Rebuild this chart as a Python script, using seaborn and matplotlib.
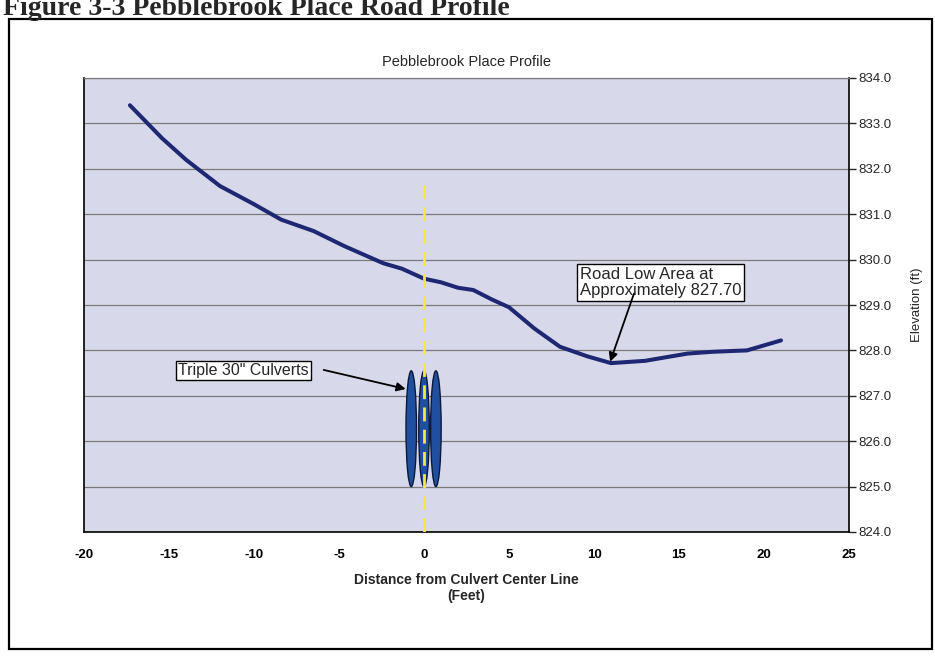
import matplotlib
matplotlib.use("Agg")
import matplotlib.pyplot as plt
import seaborn as sns
import pandas as pd
from matplotlib.patches import Ellipse, Rectangle
from matplotlib.ticker import FormatStrFormatter

# -----------------------------
# DATA
# -----------------------------
distance_ft = [-17.3, -15.4, -14.0, -12.0, -10.0, -8.4, -6.5, -4.7, -2.4, -1.3,
               0.0, 1.0, 2.0, 2.9, 4.0, 5.0, 6.5, 8.0, 9.6, 11.0,
               13.0, 15.5, 17.0, 19.0, 21.0]
elevation_ft = [833.40, 832.67, 832.20, 831.62, 831.22, 830.88, 830.63, 830.30, 829.92, 829.80,
                829.58, 829.50, 829.38, 829.33, 829.12, 828.95, 828.48, 828.08, 827.87, 827.72,
                827.77, 827.93, 827.97, 828.00, 828.22]

culvert_x = [-0.75, 0.0, 0.7]
culvert_bottom = 825.0
culvert_top = 827.55
culvert_width = 0.62

centerline_x = 0.0
centerline_top = 831.8

x_ticks = [-20, -15, -10, -5, 0, 5, 10, 15, 20, 25]
y_ticks = [824, 825, 826, 827, 828, 829, 830, 831, 832, 833, 834]

low_point = (10.95, 827.75)
low_label = "Road Low Area at\nApproximately 827.70"
culvert_label = 'Triple 30" Culverts'

df = pd.DataFrame({"Distance": distance_ft, "Elevation": elevation_ft})

# -----------------------------
# STYLE
# -----------------------------
sns.set_style("white")
plt.rcParams["font.family"] = ["Liberation Sans", "DejaVu Sans"]
plt.rcParams["axes.unicode_minus"] = False

fig = plt.figure(figsize=(9.35, 6.56), dpi=100)
W, H = 935, 656
ax = fig.add_axes([84 / W, 1 - 532 / H, (849 - 84) / W, (532 - 78) / H])
ax.set_facecolor("#d8d8eb")

# -----------------------------
# PLOT
# -----------------------------
sns.lineplot(data=df, x="Distance", y="Elevation", ax=ax, color="#1d2772",
             linewidth=2.9, sort=False, estimator=None, zorder=4)

for cx in culvert_x:
    ax.add_patch(Ellipse((cx, (culvert_bottom + culvert_top) / 2), culvert_width,
                         culvert_top - culvert_bottom, facecolor="#1f4f9e",
                         edgecolor="#0b1a3a", linewidth=1.0, zorder=5))

ax.plot([centerline_x, centerline_x], [y_ticks[0], centerline_top], color="#eded3a",
        linestyle=(0, (5, 3)), linewidth=2.0, zorder=6)

# annotations
ax.text(9.15, 829.5, low_label, fontsize=12, ha="left", va="center", zorder=7,
        linespacing=1.1,
        bbox=dict(boxstyle="square,pad=0.16", facecolor="white", edgecolor="black", linewidth=1))
ax.annotate("", xy=low_point, xytext=(12.35, 829.25), zorder=8,
            arrowprops=dict(arrowstyle="-|>", color="black", lw=1.3, mutation_scale=13,
                            shrinkA=0, shrinkB=0))

ax.text(-14.45, 827.56, culvert_label, fontsize=11.5, ha="left", va="center", zorder=7,
        bbox=dict(boxstyle="square,pad=0.14", facecolor="white", edgecolor="black", linewidth=1))
ax.annotate("", xy=(-1.08, 827.15), xytext=(-5.9, 827.57), zorder=8,
            arrowprops=dict(arrowstyle="-|>", color="black", lw=1.3, mutation_scale=13,
                            shrinkA=0, shrinkB=0))

# -----------------------------
# AXES
# -----------------------------
ax.set_xlim(x_ticks[0], x_ticks[-1])
ax.set_ylim(y_ticks[0], y_ticks[-1])
ax.set_xticks(x_ticks)
ax.set_yticks(y_ticks)
ax.yaxis.set_major_formatter(FormatStrFormatter("%.1f"))
ax.yaxis.tick_right()
ax.yaxis.set_label_position("right")
ax.grid(axis="y", color="#7a7a7a", linewidth=0.9)
ax.grid(axis="x", visible=False)

for lab in ax.get_xticklabels():
    lab.set_fontweight("bold")
ax.tick_params(axis="x", direction="out", length=4, width=1, pad=8, labelsize=9.5,
               colors="black")
ax.tick_params(axis="y", direction="out", length=5, width=1, pad=2, labelsize=9.5,
               left=False, right=True, labelleft=False, labelright=True)

for side in ["left", "bottom", "right"]:
    ax.spines[side].set_color("black")
    ax.spines[side].set_linewidth(1.2)
ax.spines["top"].set_color("#7a7a7a")
ax.spines["top"].set_linewidth(0.9)

ax.set_xlabel("Distance from Culvert Center Line\n(Feet)", fontsize=10, fontweight="bold",
              labelpad=9)
ax.set_ylabel("Elevation (ft)", fontsize=9.5, labelpad=14)
ax.set_title("Pebblebrook Place Profile", fontsize=10.5, pad=9)

# page frame and clipped heading from the report
fig.add_artist(Rectangle((9 / W, 1 - 649 / H), (932 - 9) / W, (649 - 19) / H,
                         transform=fig.transFigure, fill=False, edgecolor="black",
                         linewidth=1.6))
fig.text(3 / W, 1 - 15 / H, "Figure 3-3 Pebblebrook Place Road Profile",
         family=["Liberation Serif", "DejaVu Serif"], fontweight="bold", fontsize=20,
         ha="left", va="baseline")

fig.savefig("out.png", dpi=100)
